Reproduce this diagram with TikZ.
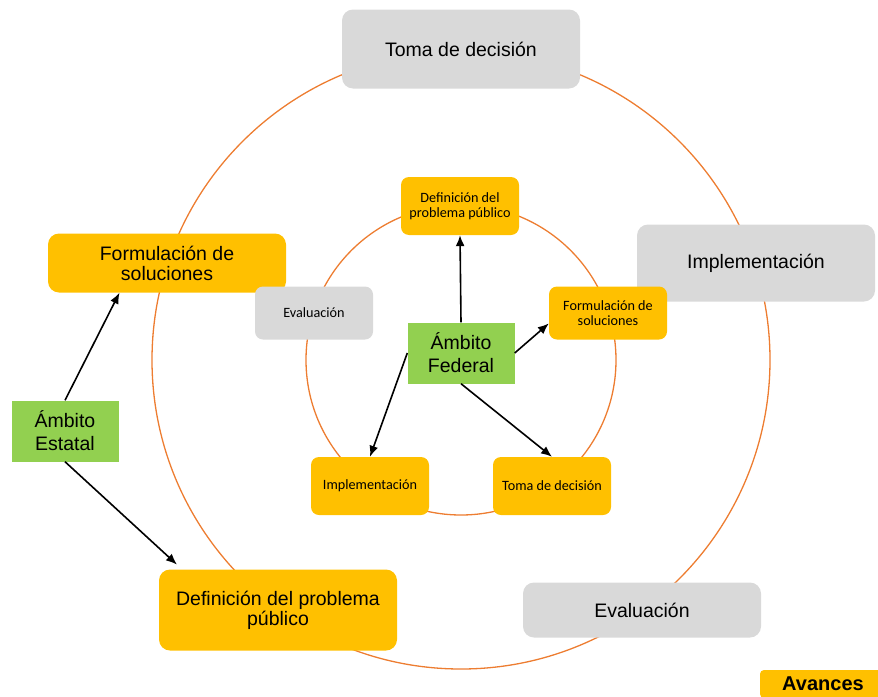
\documentclass[tikz,border=0pt]{standalone}
\usepackage{fontspec}
\setmainfont{Liberation Sans}
\newfontfamily\calibrifont{Carlito}
\usetikzlibrary{arrows.meta}
\definecolor{ringorange}{HTML}{ED7D31}
\definecolor{boxgray}{HTML}{D9D9D9}
\definecolor{boxyellow}{HTML}{FFC000}
\definecolor{boxgreen}{HTML}{92D050}

\begin{document}
\begin{tikzpicture}[x=1pt, y=-1pt,
  ring/.style={ringorange, line width=1.3pt},
  outerbox/.style={rounded corners=11pt, inner sep=0pt, align=center,
    minimum width=238pt, font=\fontsize{19.5}{20}\selectfont},
  innerbox/.style={rounded corners=8pt, inner sep=0pt, align=center,
    minimum width=118pt, font=\calibrifont\fontsize{14.2}{15}\selectfont},
  ambito/.style={fill=boxgreen, inner sep=0pt, align=center,
    minimum width=107pt, minimum height=61pt, font=\fontsize{19.5}{23}\selectfont},
  arrow/.style={-{Latex[length=11pt,width=9pt]}, line width=1.6pt}]
  \useasboundingbox (0,0) rectangle (878,696);
  % the two cycles, centre (461,360)
  \coordinate (c) at (461,360);
  \draw[ring] (c) circle[radius=309pt];
  \draw[ring] (c) circle[radius=155pt];
  % outer cycle
  \node[outerbox, fill=boxgray, minimum height=79pt] (otoma) at (461,49) {Toma de decisión};
  \node[outerbox, fill=boxgray, minimum height=77pt] (oimpl) at (756,263) {Implementación};
  \node[outerbox, fill=boxgray, minimum height=55pt] (oeval) at (642,610) {Evaluación};
  \node[outerbox, fill=boxyellow, minimum height=81pt] (odef) at (278,610) {Definición del problema\\público};
  \node[outerbox, fill=boxyellow, minimum height=59pt] (oform) at (167,263) {Formulación de\\soluciones};
  % inner cycle
  \node[innerbox, fill=boxyellow, minimum height=58pt] (idef) at (460,206) {Definición del\\problema público};
  \node[innerbox, fill=boxyellow, minimum height=53pt] (iform) at (608,313) {Formulación de\\soluciones};
  \node[innerbox, fill=boxyellow, minimum height=58pt] (itoma) at (552,486) {Toma de decisión};
  \node[innerbox, fill=boxyellow, minimum height=58pt] (iimpl) at (370,486) {Implementación};
  \node[innerbox, fill=boxgray, minimum height=53pt] (ieval) at (314,313) {Evaluación};
  % levels
  \node[ambito] (fed) at (461,353) {Ámbito\\Federal};
  \node[ambito] (est) at (65,431) {Ámbito\\Estatal};
  \draw[arrow] (fed.north) -- (idef.south);
  \draw[arrow] (fed.east) -- (iform.190);
  \draw[arrow] (fed.south) -- (itoma.north);
  \draw[arrow] (fed.west) -- (iimpl.north);
  \draw[arrow] (est.north) -- (oform.212.5);
  \draw[arrow, shorten >=7pt] (est.south) -- (odef.157);
  % tag in the corner
  \node[fill=boxyellow, rounded corners=4pt, minimum width=126pt, minimum height=28pt,
    inner sep=0pt, font=\bfseries\fontsize{20}{22}\selectfont] (tag) at (823,684) {Avances};
\end{tikzpicture}
\end{document}
